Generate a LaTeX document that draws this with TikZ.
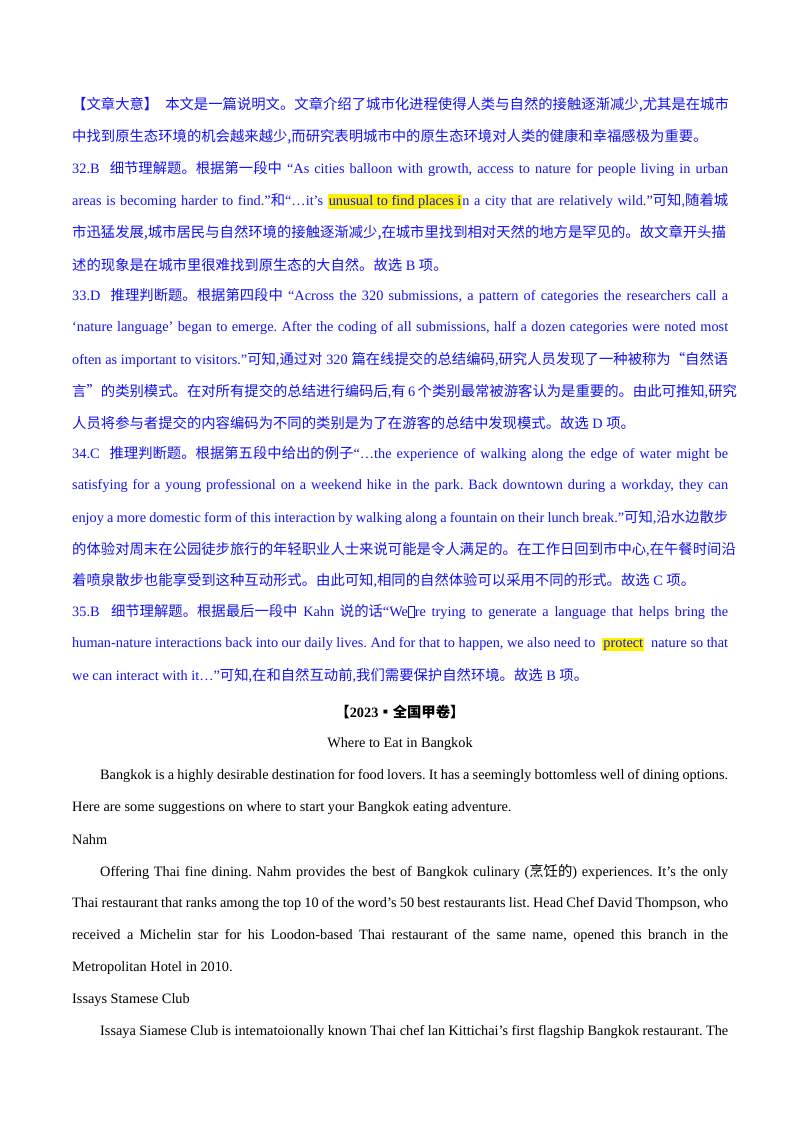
\documentclass[tikz,border=0pt]{standalone}
\usepackage{fontspec}
\setmainfont{Liberation Serif}
\newfontfamily\cjkf{Noto Sans CJK SC}
\newcommand{\cj}[1]{{\cjkf\fontsize{14.35}{16}\selectfont #1}}
\definecolor{tblue}{RGB}{20,20,235}
\newcommand{\hl}[1]{{\setlength\fboxsep{1pt}\colorbox{yellow}{#1}}}
\newcommand{\missing}{{\setlength\fboxsep{0pt}\setlength\fboxrule{0.4pt}\fbox{\rule{0pt}{10pt}\hspace{6pt}}}}
\tikzset{ln/.style={anchor=west,inner sep=0,font=\fontsize{14.3}{16}\selectfont\frenchspacing},
 bl/.style={ln,text=tblue}}
\newcommand{\fl}[1]{\makebox[656pt][s]{#1}}
\begin{document}
\begin{tikzpicture}[x=1pt,y=1pt]
\useasboundingbox[fill=white] (0,0) rectangle (800,1132);
\node[bl] (l1) at (72,1132-105) {\cj{【文章大意】}\kern7pt\cj{本文是一篇说明文。文章介绍了城市化进程使得人类与自然的接触逐渐减少,尤其是在城市}};
\node[bl] (l2) at (72,1132-137) {\cj{中找到原生态环境的机会越来越少,而研究表明城市中的原生态环境对人类的健康和幸福感极为重要。}};
\node[bl] (l3) at (72,1132-169) {\fl{32.B \ \cj{细节理解题。根据第一段中} “As cities balloon with growth, access to nature for people living in urban}};
\node[bl] (l4) at (72,1132-201) {\fl{areas is becoming harder to find.”\cj{和}“…it’s \hl{unusual to find places i}n a city that are relatively wild.”\cj{可知},\cj{随着城}}};
\node[bl] (l5) at (72,1132-233) {\cj{市迅猛发展,城市居民与自然环境的接触逐渐减少,在城市里找到相对天然的地方是罕见的。故文章开头描}};
\node[bl] (l6) at (72,1132-265) {\cj{述的现象是在城市里很难找到原生态的大自然。故选} B \cj{项。}};
\node[bl] (l7) at (72,1132-296) {\fl{33.D \ \cj{推理判断题。根据第四段中} “Across the 320 submissions, a pattern of categories the researchers call a}};
\node[bl] (l8) at (72,1132-328) {\fl{‘nature language’ began to emerge. After the coding of all submissions, half a dozen categories were noted most}};
\node[bl] (l9) at (72,1132-360) {\fl{often as important to visitors.”\cj{可知},\cj{通过对} 320 \cj{篇在线提交的总结编码},\cj{研究人员发现了一种被称为“自然语}}};
\node[bl] (l10) at (72,1132-392) {\fl{\cj{言”的类别模式。在对所有提交的总结进行编码后},\cj{有} 6 \cj{个类别最常被游客认为是重要的。由此可推知},\cj{研究}}};
\node[bl] (l11) at (72,1132-423) {\cj{人员将参与者提交的内容编码为不同的类别是为了在游客的总结中发现模式。故选} D \cj{项。}};
\node[bl] (l12) at (72,1132-454) {\fl{34.C \ \cj{推理判断题。根据第五段中给出的例子}“…the experience of walking along the edge of water might be}};
\node[bl] (l13) at (72,1132-486) {\fl{satisfying for a young professional on a weekend hike in the park. Back downtown during a workday, they can}};
\node[bl] (l14) at (72,1132-518) {\fl{enjoy a more domestic form of this interaction by walking along a fountain on their lunch break.”\cj{可知},\cj{沿水边散步}}};
\node[bl] (l15) at (72,1132-550) {\fl{\cj{的体验对周末在公园徒步旅行的年轻职业人士来说可能是令人满足的。在工作日回到市中心},\cj{在午餐时间沿}}};
\node[bl] (l16) at (72,1132-581) {\cj{着喷泉散步也能享受到这种互动形式。由此可知},\cj{相同的自然体验可以采用不同的形式。故选} C \cj{项。}};
\node[bl] (l17) at (72,1132-612) {\fl{35.B \ \cj{细节理解题。根据最后一段中} Kahn \cj{说的话}“We\missing re trying to generate a language that helps bring the}};
\node[bl] (l18) at (72,1132-644) {\fl{human-nature interactions back into our daily lives. And for that to happen, we also need to \ \hl{protect} \ nature so that}};
\node[bl] (l19) at (72,1132-676) {we can interact with it…”\cj{可知},\cj{在和自然互动前},\cj{我们需要保护自然环境。故选} B \cj{项。}};
\node[ln,anchor=center] (h1) at (400,1132-712) {\bfseries\cj{【}2023\cj{▪全国甲卷】}};
\node[ln,anchor=center] (h2) at (400,1132-744) {Where to Eat in Bangkok};
\node[ln] (p1) at (100,1132-776) {\makebox[628pt][s]{Bangkok is a highly desirable destination for food lovers. It has a seemingly bottomless well of dining options.}};
\node[ln] (p2) at (72,1132-808) {Here are some suggestions on where to start your Bangkok eating adventure.};
\node[ln] (p3) at (72,1132-840) {Nahm};
\node[ln] (p4) at (100,1132-872) {\makebox[628pt][s]{Offering Thai fine dining. Nahm provides the best of Bangkok culinary (\cj{烹饪的}) experiences. It’s the only}};
\node[ln] (p5) at (72,1132-904) {\fl{Thai restaurant that ranks among the top 10 of the word’s 50 best restaurants list. Head Chef David Thompson, who}};
\node[ln] (p6) at (72,1132-936) {\fl{received a Michelin star for his Loodon-based Thai restaurant of the same name, opened this branch in the}};
\node[ln] (p7) at (72,1132-968) {Metropolitan Hotel in 2010.};
\node[ln] (p8) at (72,1132-1000) {Issays Stamese Club};
\node[ln] (p9) at (100,1132-1032) {\makebox[628pt][s]{Issaya Siamese Club is intematoionally known Thai chef lan Kittichai’s first flagship Bangkok restaurant. The}};
\end{tikzpicture}
\end{document}
